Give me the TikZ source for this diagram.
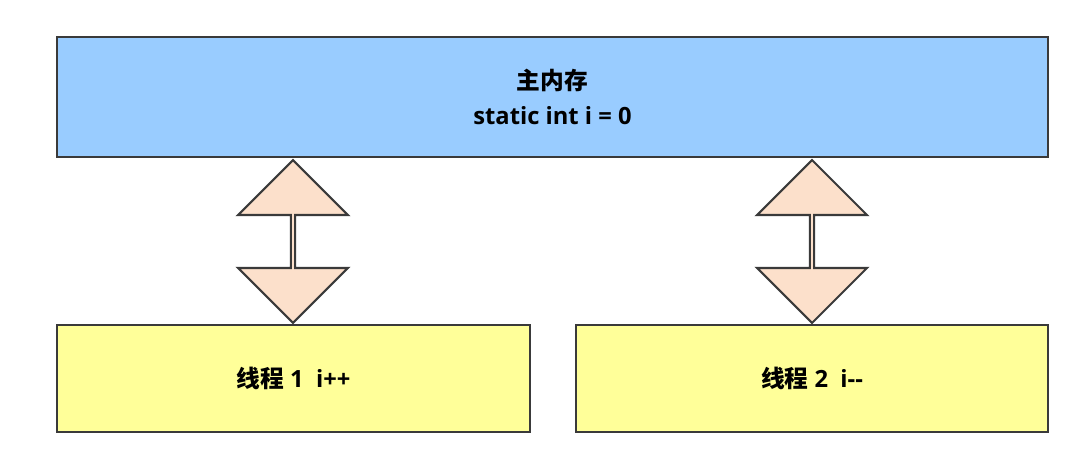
\documentclass[tikz,border=0pt]{standalone}
\usepackage{fontspec}
\setmainfont{Open Sans}
\newfontfamily\cjk{Noto Sans CJK SC}
\usetikzlibrary{shapes.arrows,positioning}
\definecolor{memblue}{HTML}{99CCFF}
\definecolor{thrdyellow}{HTML}{FFFF99}
\definecolor{xferpeach}{HTML}{FCE0CB}
\definecolor{edgegray}{HTML}{3A3A3A}
\tikzset{
  box/.style={draw=edgegray, line width=1.4pt, inner sep=0pt, font=\bfseries\fontsize{13.5}{20}\selectfont, align=center},
  xfer/.style={draw=edgegray, line width=1.2pt, fill=xferpeach, double arrow, shape border rotate=90,
    minimum height=3.26cm, minimum width=2.2cm, double arrow head extend=0.54cm,
    double arrow tip angle=90, inner sep=0pt}
}
\begin{document}
\begin{tikzpicture}[x=0.02cm,y=-0.02cm]
	% canvas
	\useasboundingbox (0,0) rectangle (1088,459);

	\node[box, fill=memblue, minimum width=19.82cm, minimum height=2.4cm] (mem) at (552.5,97) {{\cjk\bfseries 主内存}\\static int i = 0};
	\node[box, fill=thrdyellow, minimum width=9.46cm, minimum height=2.14cm] (t1) at (293.5,378.5) {{\cjk\bfseries 线程} 1\ \ i++};
	\node[box, fill=thrdyellow, minimum width=9.44cm, minimum height=2.14cm] (t2) at (812,378.5) {{\cjk\bfseries 线程} 2\ \ i-{}-};

	\node[xfer] (a1) at (293,241.5) {};
	\node[xfer] (a2) at (812,241.5) {};
\end{tikzpicture}
\end{document}
